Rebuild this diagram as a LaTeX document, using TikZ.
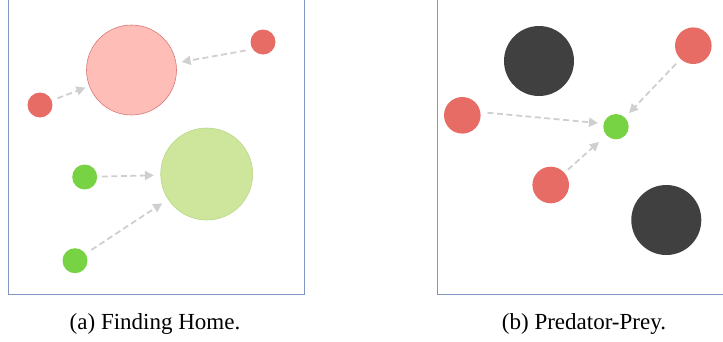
\documentclass[tikz,border=0pt]{standalone}
\usepackage{fontspec}
\setmainfont{Liberation Serif}
\usetikzlibrary{arrows.meta}
\definecolor{frame}{HTML}{8196C4}
\definecolor{agentred}{HTML}{E86C66}
\definecolor{homered}{HTML}{FFBDB8}
\definecolor{homeredline}{HTML}{D77A76}
\definecolor{agentgreen}{HTML}{77D344}
\definecolor{homegreen}{HTML}{CDE69C}
\definecolor{homegreenline}{HTML}{B9D98A}
\definecolor{predator}{HTML}{404040}
\definecolor{pull}{HTML}{CFCFCF}
\tikzset{
  dot/.style={circle, inner sep=0pt, minimum size=#1},
  redagent/.style={dot=#1, fill=agentred},
  greenagent/.style={dot=#1, fill=agentgreen},
  pull/.style={draw=pull, line width=1.8pt, dash pattern=on 6pt off 3.5pt,
    -{Triangle[length=9pt,width=9pt]}, shorten <=5pt, shorten >=6pt},
  panel/.style={draw=frame, line width=1pt},
  caption/.style={font=\fontsize{23}{28}\selectfont, anchor=base, inner sep=0pt}
}
\begin{document}
\begin{tikzpicture}[x=1pt,y=-1pt]
\useasboundingbox (0,0) rectangle (723,341);

% panel frames
\draw[panel] (8.5,0) -- (8.5,294) -- (304,294) -- (304,0);
\draw[panel] (437.5,0) -- (437.5,294) -- (723,294);

% (a) finding home
\node[dot=90pt, fill=homered, draw=homeredline, line width=0.6pt] (homeR) at (131.5,70) {};
\node[dot=92pt, fill=homegreen, draw=homegreenline, line width=0.6pt] (homeG) at (206.7,174) {};
\node[redagent=25pt] (ra1) at (263,42) {};
\node[redagent=25pt] (ra2) at (40,105) {};
\node[greenagent=25pt] (ga1) at (84.7,177) {};
\node[greenagent=25pt] (ga2) at (75,260.7) {};
\draw[pull, shorten <=7pt, shorten >=5.5pt] (ra1.215) -- (homeR.9);
\draw[pull, shorten <=6pt, shorten >=4pt] (ra2) -- (homeR);
\draw[pull, shorten <=4.5pt, shorten >=6.5pt] (ga1) -- (homeG);
\draw[pull, shorten <=7pt, shorten >=7pt] (ga2) -- (homeG);

% (b) predator-prey
\node[dot=70pt, fill=predator] (pd1) at (539,61) {};
\node[dot=70pt, fill=predator] (pd2) at (666.3,220) {};
\node[redagent=36.6pt] (pr1) at (693.3,45.7) {};
\node[redagent=36.6pt] (pr2) at (462.3,115.3) {};
\node[redagent=36.6pt] (pr3) at (550.7,185) {};
\node[greenagent=25.4pt] (prey) at (616,126.7) {};
\draw[pull, shorten <=7pt, shorten >=5.5pt] (pr2.10) -- (prey.166);
\draw[pull, shorten <=6.5pt, shorten >=6pt] (pr1) -- (prey);
\draw[pull, shorten <=4.5pt, shorten >=10pt] (pr3) -- (prey);

% captions
\node[caption] (capA) at (155,329) {(a) Finding Home.};
\node[caption] (capB) at (584,329) {(b) Predator-Prey.};
\end{tikzpicture}
\end{document}
